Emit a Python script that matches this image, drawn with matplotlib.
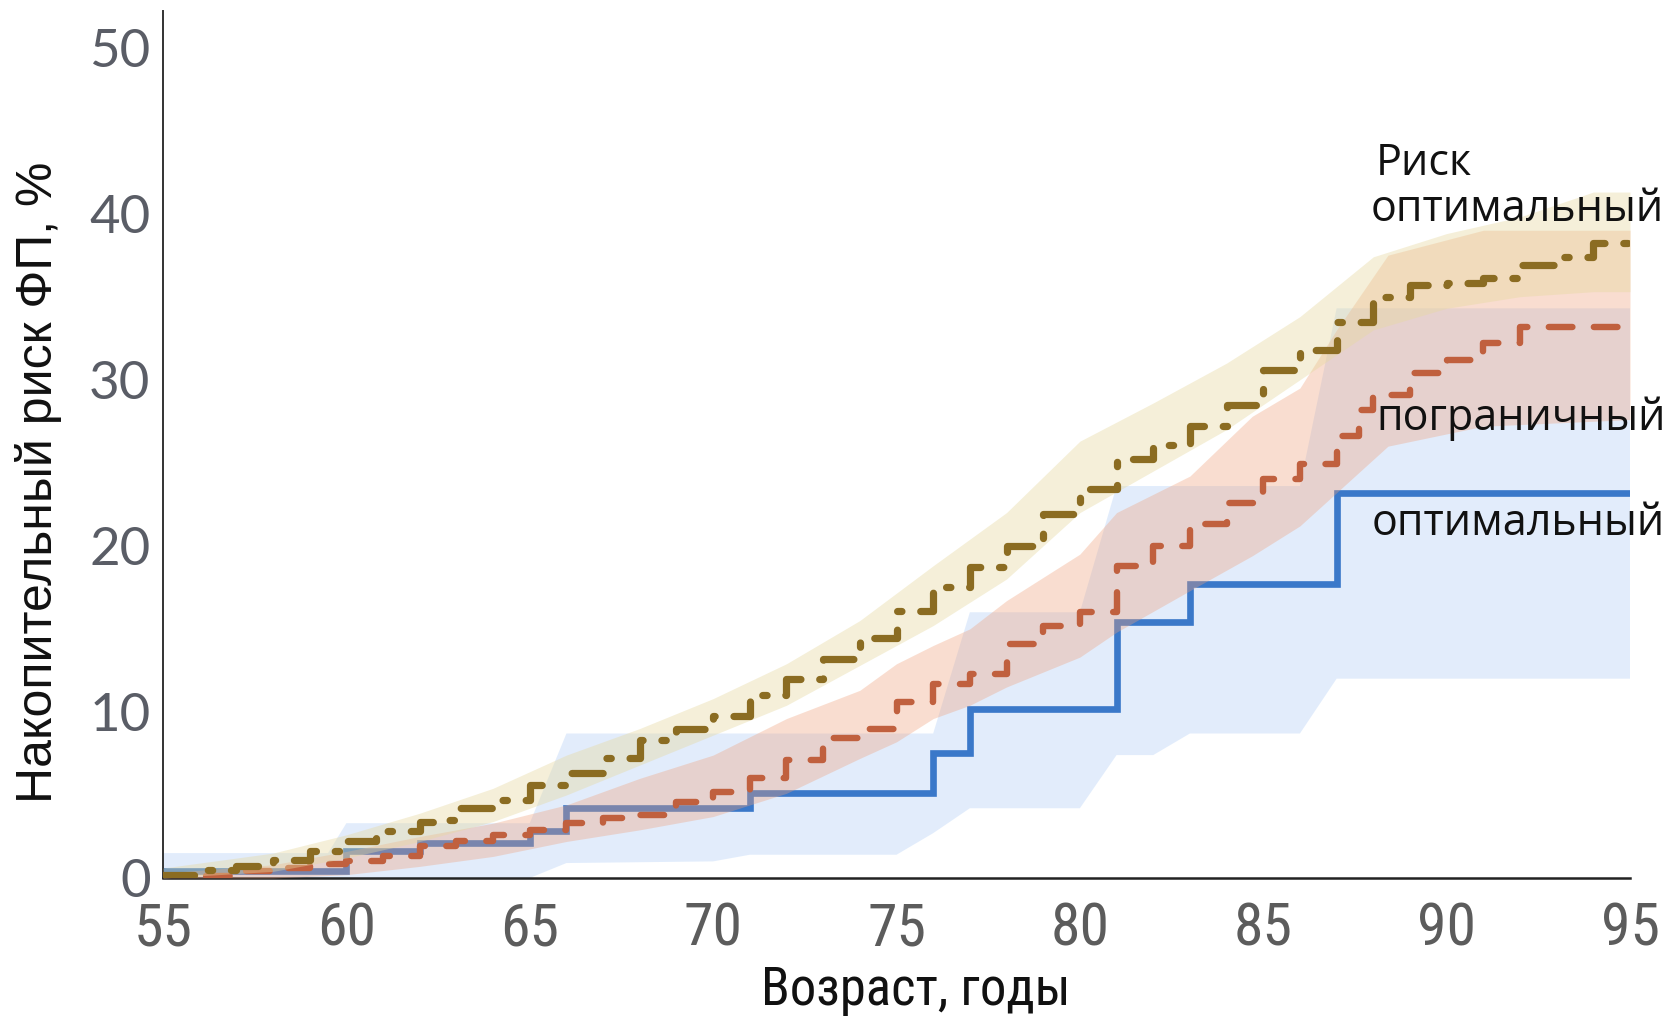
import matplotlib
matplotlib.use("Agg")
import matplotlib.pyplot as plt
from matplotlib import font_manager as fm

# ---- data -------------------------------------------------------------
# optimal risk profile (solid blue step curve + its confidence band)
blue_age = [55, 60, 62, 65, 66, 71, 76, 77, 81, 83, 87, 95]
blue_risk = [0.4, 1.6, 2.1, 2.8, 4.2, 5.1, 7.5, 10.2, 15.4, 17.7, 23.2, 23.2]
blue_band_age_hi = [55, 59.5, 60, 65, 66, 76, 77, 80, 81, 86, 87, 95]
blue_band_hi = [1.5, 1.5, 3.3, 3.3, 8.7, 8.7, 16.0, 16.0, 23.6, 23.6, 34.3, 34.3]
blue_band_age_lo = [55, 65, 66, 70, 71, 75, 76, 77, 80, 81, 82, 83, 86, 87, 95]
blue_band_lo = [0, 0, 0.9, 1.0, 1.4, 1.4, 2.7, 4.2, 4.2, 7.4, 7.4, 8.7, 8.7, 12.0, 12.0]

# borderline risk profile (dashed orange step curve + band)
orange_age = [55, 56, 57, 58, 59, 60, 61, 62, 63, 64, 65, 66, 67, 68, 69, 70,
              71, 72, 73, 74, 75, 76, 77, 78, 79, 80, 81, 82, 83, 84, 85, 86,
              87, 87.6, 88, 89, 90, 91, 92, 95]
orange_risk = [0.0, 0.15, 0.4, 0.6, 0.85, 1.0, 1.3, 1.9, 2.2, 2.6, 2.9, 3.3,
               3.6, 3.8, 4.6, 5.2, 6.0, 7.1, 8.4, 9.0, 10.6, 11.7, 12.3, 14.1,
               15.2, 16.0, 18.8, 20.0, 21.3, 22.6, 24.0, 24.9, 26.6, 28.2, 29.1,
               30.4, 31.2, 32.2, 33.2, 33.2]
orange_band_age = [55, 58, 60, 62, 64, 66, 68, 70, 72, 74, 75, 76, 77, 78, 80,
                   81, 83, 84.7, 86, 87, 88.4, 91, 95]
orange_band_hi = [0.3, 0.8, 1.6, 2.5, 3.3, 4.4, 6.0, 7.4, 9.6, 11.3, 12.9, 14.0,
                  15.0, 16.7, 19.5, 22.0, 24.2, 27.8, 29.5, 33.0, 37.5, 39.0, 39.0]
orange_band_lo = [0.0, 0.0, 0.2, 0.7, 1.3, 2.2, 2.9, 3.7, 5.1, 7.2, 8.2, 9.6,
                  10.4, 11.5, 13.3, 14.8, 17.3, 19.4, 21.2, 23.2, 26.0, 27.2, 27.6]

# non-optimal risk profile (dash-dot olive step curve + band)
olive_age = [55, 56, 57, 58, 59, 60, 60.8, 62, 62.5, 63, 64, 65, 66, 67, 68,
             69, 70, 71, 72, 73, 74, 75, 76, 77, 78, 79, 80, 81, 82, 83, 84,
             85, 86, 87, 88, 89, 90, 91, 92, 93, 94, 95]
olive_risk = [0.2, 0.5, 0.7, 1.1, 1.6, 2.2, 2.8, 3.4, 3.5, 4.2, 4.7, 5.6, 6.3,
              7.2, 8.3, 9.0, 9.75, 11.0, 12.0, 13.2, 14.45, 16.1, 17.5, 18.7,
              20.0, 21.9, 23.4, 25.2, 26.1, 27.2, 28.5, 30.6, 31.8, 33.5, 35.0,
              35.7, 35.8, 36.1, 36.9, 37.4, 38.25, 38.25]
olive_band_age = [55, 58, 60, 62, 64, 66, 68, 70, 72, 74, 76, 78, 80, 82, 84,
                  86, 88, 90, 92, 94, 95]
olive_band_hi = [0.6, 1.5, 2.6, 3.9, 5.4, 7.4, 9.0, 10.8, 12.9, 15.5, 18.8,
                 22.0, 26.3, 28.6, 31.0, 33.8, 37.4, 38.8, 39.8, 41.3, 41.3]
olive_band_lo = [0.0, 0.4, 1.2, 2.2, 3.4, 5.0, 6.8, 8.6, 10.4, 12.8, 15.2,
                 18.0, 22.0, 24.5, 27.0, 30.0, 33.0, 34.3, 35.0, 35.3, 35.3]

x_ticks = [55, 60, 65, 70, 75, 80, 85, 90, 95]
y_ticks = [0, 10, 20, 30, 40, 50]

labels = [("Риск", 88.08, 42.35),
          ("оптимальный", 87.93, 39.55),
          ("пограничный", 88.08, 27.0),
          ("оптимальный", 87.96, 20.66)]


def pick(*names):
    avail = {f.name for f in fm.fontManager.ttflist}
    for n in names:
        if n in avail:
            return n
    return "DejaVu Sans"


narrow = pick("Liberation Sans Narrow", "Roboto Condensed", "Liberation Sans")
sans = pick("Liberation Sans", "Arial")
label_font = pick("Open Sans", "Noto Sans")
num_font = pick("Lato", "Open Sans")

BLUE = "#3a78c9"
ORANGE = "#c0603e"
OLIVE = "#8b6c22"

fig = plt.figure(figsize=(16.73, 10.19), dpi=100)
ax = fig.add_axes([163 / 1673, 141 / 1019, 1467 / 1673, 867 / 1019])

# confidence bands and curves, back to front
ax.fill(blue_band_age_hi + blue_band_age_lo[::-1],
        blue_band_hi + blue_band_lo[::-1],
        color="#9fc3f5", alpha=0.30, lw=0, zorder=1)
ax.step(blue_age, blue_risk, where="post", color=BLUE, lw=4.8,
        solid_capstyle="round", solid_joinstyle="miter", zorder=2)

ax.fill_between(orange_band_age, orange_band_lo, orange_band_hi,
                color="#f0a07a", alpha=0.35, lw=0, zorder=3)
ax.step(orange_age, orange_risk, where="post", color=ORANGE, lw=4.6,
        linestyle=(0, (3.7, 3.35)), dash_capstyle="round", zorder=4)

ax.fill_between(olive_band_age, olive_band_lo, olive_band_hi,
                color="#e6d9a0", alpha=0.40, lw=0, zorder=5)
ax.step(olive_age, olive_risk, where="post", color=OLIVE, lw=5.2,
        linestyle=(0, (4.3, 2.6, 0.6, 2.6)), dash_capstyle="round", zorder=6)

for text, x, y in labels:
    ax.text(x, y, text, fontsize=31, family=label_font, color="#111111",
            ha="left", va="baseline", zorder=7)

ax.set_xlim(55, 95)
ax.set_ylim(0, 52.2)
ax.set_xticks(x_ticks)
ax.set_yticks(y_ticks)
ax.tick_params(axis="both", length=0)
ax.tick_params(axis="x", pad=16)
ax.tick_params(axis="y", pad=9)
for lab in ax.get_xticklabels():
    lab.set_fontfamily(narrow)
    lab.set_fontsize(43)
    lab.set_color("#5c5c5c")
for lab in ax.get_yticklabels():
    lab.set_fontfamily(num_font)
    lab.set_fontsize(38)
    lab.set_color("#5a5d66")

ax.set_xlabel("Возраст, годы", fontsize=38, family=narrow, color="#111111")
ax.xaxis.set_label_coords(0.513, -0.100)
ax.set_ylabel("Накопительный риск ФП, %", fontsize=36, family=sans,
              color="#111111", va="center")
ax.yaxis.set_label_coords(-0.085, 0.456)

for side in ("top", "right"):
    ax.spines[side].set_visible(False)
ax.spines["left"].set_color("#333333")
ax.spines["left"].set_linewidth(1.4)
ax.spines["bottom"].set_color("#222222")
ax.spines["bottom"].set_linewidth(1.8)

fig.savefig("out.png", dpi=100, facecolor="white")
